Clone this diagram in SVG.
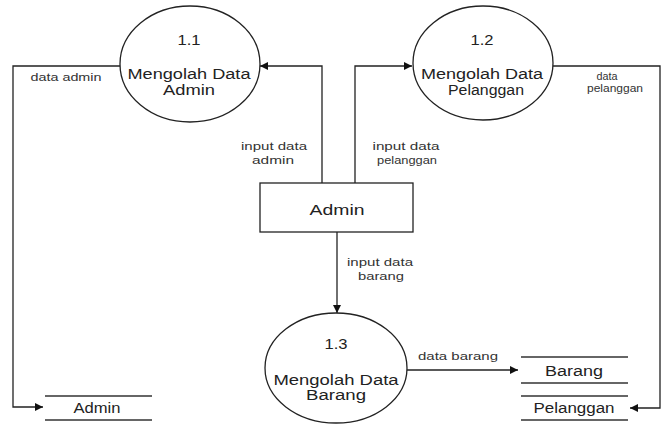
<svg xmlns="http://www.w3.org/2000/svg" width="670" height="425" viewBox="0 0 670 425">
  <defs>
    <marker id="arrow" viewBox="0 0 10 10" refX="10" refY="5" markerWidth="10" markerHeight="8" markerUnits="userSpaceOnUse" orient="auto">
      <path d="M0,0 L10,5 L0,10 z" fill="#111"/>
    </marker>
    <style>
      .proc { fill: #fff; stroke: #222; stroke-width: 1.3; }
      .box { fill: #fff; stroke: #222; stroke-width: 1.3; }
      .store { stroke: #333; stroke-width: 1.3; }
      .flow { fill: none; stroke: #222; stroke-width: 1.3; }
      .t { font-family: "Liberation Sans", Arial, sans-serif; font-size: 14px; fill: #222; text-anchor: middle; }
      .l { font-family: "Liberation Sans", Arial, sans-serif; font-size: 11px; fill: #333; text-anchor: middle; }
    </style>
  </defs>
  <rect width="670" height="425" fill="#fff"/>

  <!-- data flows -->
  <g id="connectors">
    <polyline class="flow" points="120,66 13,66 13,407 43,407" marker-end="url(#arrow)"/>
    <polyline class="flow" points="322,183 322,66 260,66" marker-end="url(#arrow)"/>
    <polyline class="flow" points="355,183 355,66 412,66" marker-end="url(#arrow)"/>
    <polyline class="flow" points="553,66 660,66 660,408 630,408" marker-end="url(#arrow)"/>
    <line class="flow" x1="337" y1="232" x2="337" y2="313" marker-end="url(#arrow)"/>
    <line class="flow" x1="407" y1="370" x2="518" y2="370" marker-end="url(#arrow)"/>

    <text class="l" x="66" y="81" textLength="71" lengthAdjust="spacingAndGlyphs">data admin</text>
    <text class="l" x="274" y="150" textLength="66" lengthAdjust="spacingAndGlyphs">input data</text>
    <text class="l" x="273" y="164" textLength="42" lengthAdjust="spacingAndGlyphs">admin</text>
    <text class="l" x="406" y="150" textLength="67" lengthAdjust="spacingAndGlyphs">input data</text>
    <text class="l" x="407" y="164" textLength="60" lengthAdjust="spacingAndGlyphs">pelanggan</text>
    <text class="l" x="607" y="80" textLength="21" lengthAdjust="spacingAndGlyphs">data</text>
    <text class="l" x="615" y="92" textLength="56" lengthAdjust="spacingAndGlyphs">pelanggan</text>
    <text class="l" x="380" y="266" textLength="66" lengthAdjust="spacingAndGlyphs">input data</text>
    <text class="l" x="381" y="280" textLength="46" lengthAdjust="spacingAndGlyphs">barang</text>
    <text class="l" x="458" y="360" textLength="80" lengthAdjust="spacingAndGlyphs">data barang</text>
  </g>

  <!-- process 1.1 -->
  <g id="p1-1">
    <ellipse class="proc" cx="190" cy="64" rx="70" ry="58"/>
    <text class="t" x="189" y="45" textLength="23" lengthAdjust="spacingAndGlyphs">1.1</text>
    <text class="t" x="189" y="79" textLength="123" lengthAdjust="spacingAndGlyphs">Mengolah Data</text>
    <text class="t" x="189" y="95" textLength="52" lengthAdjust="spacingAndGlyphs">Admin</text>
  </g>

  <!-- process 1.2 -->
  <g id="p1-2">
    <ellipse class="proc" cx="483" cy="63" rx="70" ry="57"/>
    <text class="t" x="482" y="45" textLength="23" lengthAdjust="spacingAndGlyphs">1.2</text>
    <text class="t" x="482" y="79" textLength="122" lengthAdjust="spacingAndGlyphs">Mengolah Data</text>
    <text class="t" x="486" y="95" textLength="76" lengthAdjust="spacingAndGlyphs">Pelanggan</text>
  </g>

  <!-- process 1.3 -->
  <g id="p1-3">
    <ellipse class="proc" cx="336" cy="368" rx="71" ry="55"/>
    <text class="t" x="336" y="349" textLength="23" lengthAdjust="spacingAndGlyphs">1.3</text>
    <text class="t" x="336" y="385" textLength="125" lengthAdjust="spacingAndGlyphs">Mengolah Data</text>
    <text class="t" x="336" y="400" textLength="60" lengthAdjust="spacingAndGlyphs">Barang</text>
  </g>

  <!-- external entity -->
  <g id="admin-entity">
    <rect class="box" x="260" y="183" width="153" height="49"/>
    <text class="t" x="337" y="215" textLength="55" lengthAdjust="spacingAndGlyphs">Admin</text>
  </g>

  <!-- data stores -->
  <g id="store-admin">
    <line class="store" x1="45" y1="396" x2="152" y2="396"/>
    <line class="store" x1="45" y1="420" x2="152" y2="420"/>
    <text class="t" x="97" y="413" textLength="47" lengthAdjust="spacingAndGlyphs">Admin</text>
  </g>
  <g id="store-barang">
    <line class="store" x1="521" y1="357" x2="628" y2="357"/>
    <line class="store" x1="521" y1="383" x2="628" y2="383"/>
    <text class="t" x="574" y="376" textLength="58" lengthAdjust="spacingAndGlyphs">Barang</text>
  </g>
  <g id="store-pelanggan">
    <line class="store" x1="521" y1="396" x2="628" y2="396"/>
    <line class="store" x1="521" y1="420" x2="628" y2="420"/>
    <text class="t" x="574" y="413" textLength="81" lengthAdjust="spacingAndGlyphs">Pelanggan</text>
  </g>
</svg>
